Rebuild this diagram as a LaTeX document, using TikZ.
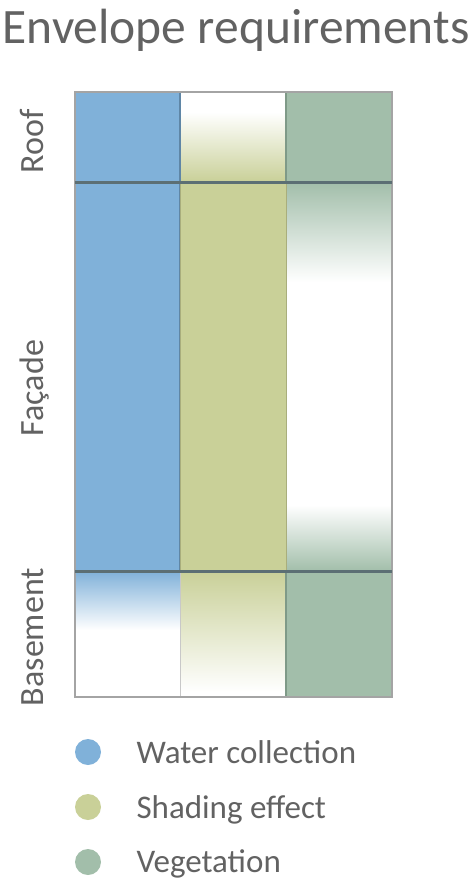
\documentclass[tikz,border=0pt]{standalone}
\usepackage{fontspec}
\setmainfont{Carlito}
\usetikzlibrary{positioning}
\definecolor{TextGray}{HTML}{626262}
\definecolor{WaterBlue}{HTML}{80B1D9}
\definecolor{ShadeOlive}{HTML}{C9D098}
\definecolor{VegeGreen}{HTML}{A2BEAA}
\definecolor{WaterEdge}{HTML}{5F86A6}
\definecolor{ShadeEdge}{HTML}{A9AE7C}
\definecolor{VegeEdge}{HTML}{7F9A88}
\definecolor{FloorLine}{HTML}{5C6F74}
\definecolor{BoxGray}{HTML}{A4A4A4}

\begin{document}
\begin{tikzpicture}[x=1pt,y=-1pt]
        \tikzset{Label/.style={text=TextGray, font=\fontsize{33}{40}\selectfont}}
        \tikzset{Level/.style={Label, font=\fontsize{34}{40}\selectfont, rotate=90, anchor=base}}
        \tikzset{Dot/.style={circle, fill=#1, minimum size=26pt, inner sep=0pt}}

        \useasboundingbox (0,0) rectangle (474,884);

        \node[Label, font=\fontsize{49.5}{60}\selectfont, anchor=base](Title) at (236,43) {Envelope requirements};

        % roof row
        \fill[WaterBlue] (75,92) rectangle (180,182);
        \shade[top color=white, bottom color=ShadeOlive] (180,112) rectangle (286,182);
        \fill[VegeGreen] (286,92) rectangle (392,182);

        % facade row
        \fill[WaterBlue] (75,182) rectangle (180,571);
        \fill[ShadeOlive] (180,182) rectangle (286,571);
        \shade[top color=VegeGreen, middle color=VegeGreen!40, bottom color=white] (286,182) rectangle (392,282);
        \shade[top color=white, middle color=VegeGreen!40, bottom color=VegeGreen] (286,505) rectangle (392,571);

        % basement row
        \shade[top color=WaterBlue, bottom color=white] (75,571) rectangle (180,630);
        \shade[top color=ShadeOlive, middle color=ShadeOlive!40, bottom color=white] (180,571) rectangle (286,692);
        \fill[VegeGreen] (286,571) rectangle (392,697);

        % cell outlines
        \draw[WaterEdge, line width=1.5pt] (75,92) rectangle (180,571);
        \draw[VegeEdge, line width=1.5pt] (286,92) rectangle (392,182);
        \draw[VegeEdge, line width=1.5pt] (286,571) rectangle (392,697);
        \draw[ShadeEdge, line width=1pt] (180,182) rectangle (286,571);

        % frame and floors
        \draw[BoxGray!60, line width=1pt] (180,571) -- (180,697);
        \draw[BoxGray, line width=2pt] (75,92) rectangle (392,697);
        \draw[FloorLine, line width=3pt] (75,182) -- (392,182);
        \draw[FloorLine, line width=3pt] (75,571) -- (392,571);

        \node[Level](Roof) at (43,141) {Roof};
        \node[Level](Facade) at (43,388) {Façade};
        \node[Level](Basement) at (43,637) {Basement};

        % legend
        \node[Dot=WaterBlue](DotWater) at (88,752) {};
        \node[Dot=ShadeOlive](DotShade) at (88,807) {};
        \node[Dot=VegeGreen](DotVege) at (88,862) {};
        \node[Label, anchor=base west](Water) at (133,763) {Water collection};
        \node[Label, anchor=base west](Shade) at (133,818) {Shading effect};
        \node[Label, anchor=base west](Vege) at (133,872) {Vegetation};
\end{tikzpicture}
\end{document}
